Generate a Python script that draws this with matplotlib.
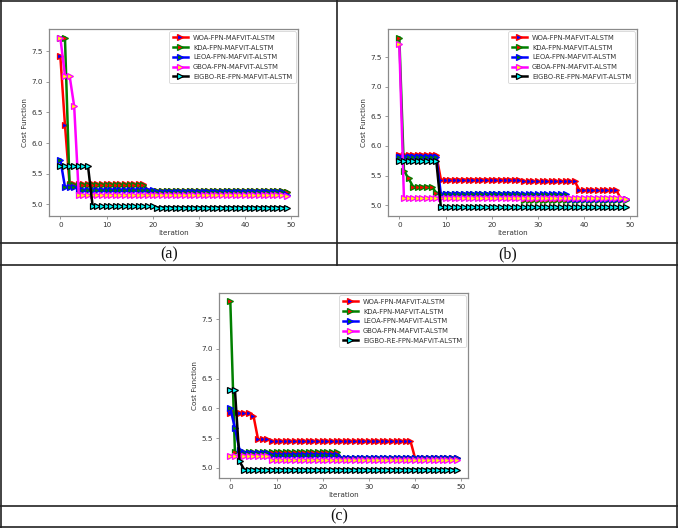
import matplotlib
matplotlib.use("Agg")
import matplotlib.pyplot as plt
from matplotlib.lines import Line2D

iterations = list(range(50))
labels = ["WOA-FPN-MAFViT-ALSTM", "KDA-FPN-MAFViT-ALSTM", "LEOA-FPN-MAFViT-ALSTM",
          "GBOA-FPN-MAFViT-ALSTM", "EIGBO-RE-FPN-MAFViT-ALSTM"]
line_colors = ["red", "green", "blue", "magenta", "black"]
face_colors = ["blue", "red", "green", "yellow", "cyan"]

# ---------------- (a) ----------------
woa_a = [7.42, 6.30, 5.33, 5.33, 5.33, 5.33, 5.33, 5.33, 5.33, 5.33,
         5.33, 5.33, 5.33, 5.33, 5.33, 5.33, 5.33, 5.33, 5.33, 5.22,
         5.22, 5.22, 5.22, 5.22, 5.22, 5.22, 5.22, 5.22, 5.22, 5.22,
         5.22, 5.22, 5.22, 5.22, 5.22, 5.22, 5.22, 5.22, 5.22, 5.22,
         5.22, 5.22, 5.22, 5.22, 5.22, 5.22, 5.22, 5.22, 5.22, 5.20]
kda_a = [7.72, 7.72, 5.31, 5.31, 5.31, 5.31, 5.31, 5.31, 5.31, 5.31,
         5.31, 5.31, 5.31, 5.31, 5.31, 5.31, 5.31, 5.31, 5.31, 5.22,
         5.22, 5.22, 5.22, 5.22, 5.22, 5.22, 5.22, 5.22, 5.22, 5.22,
         5.22, 5.22, 5.22, 5.22, 5.22, 5.22, 5.22, 5.22, 5.22, 5.22,
         5.22, 5.22, 5.22, 5.22, 5.22, 5.22, 5.22, 5.22, 5.22, 5.21]
leoa_a = [5.73, 5.29, 5.29, 5.29, 5.24, 5.24, 5.24, 5.24, 5.24, 5.24,
          5.24, 5.24, 5.24, 5.24, 5.24, 5.24, 5.24, 5.24, 5.24, 5.24,
          5.24, 5.20, 5.20, 5.20, 5.20, 5.20, 5.20, 5.20, 5.20, 5.20,
          5.20, 5.20, 5.20, 5.20, 5.20, 5.20, 5.20, 5.20, 5.20, 5.20,
          5.20, 5.20, 5.20, 5.20, 5.20, 5.20, 5.20, 5.20, 5.20, 5.15]
gboa_a = [7.72, 7.10, 7.10, 6.60, 5.15, 5.15, 5.15, 5.15, 5.15, 5.15,
          5.15, 5.15, 5.15, 5.15, 5.15, 5.15, 5.15, 5.15, 5.15, 5.15,
          5.15, 5.15, 5.15, 5.15, 5.15, 5.15, 5.15, 5.15, 5.15, 5.15,
          5.15, 5.15, 5.15, 5.15, 5.15, 5.15, 5.15, 5.15, 5.15, 5.15,
          5.15, 5.15, 5.15, 5.15, 5.15, 5.15, 5.15, 5.15, 5.15, 5.13]
eigbo_a = [5.62, 5.62, 5.62, 5.62, 5.62, 5.62, 5.62, 4.97, 4.97, 4.97,
           4.97, 4.97, 4.97, 4.97, 4.97, 4.97, 4.97, 4.97, 4.97, 4.97,
           4.97, 4.95, 4.95, 4.95, 4.95, 4.95, 4.95, 4.95, 4.95, 4.95,
           4.95, 4.95, 4.95, 4.95, 4.95, 4.95, 4.95, 4.95, 4.95, 4.95,
           4.95, 4.95, 4.95, 4.95, 4.95, 4.95, 4.95, 4.95, 4.95, 4.95]

# ---------------- (b) ----------------
woa_b = [5.85, 5.85, 5.85, 5.85, 5.85, 5.85, 5.85, 5.85, 5.85, 5.43,
         5.43, 5.43, 5.43, 5.43, 5.43, 5.43, 5.43, 5.43, 5.43, 5.43,
         5.43, 5.43, 5.43, 5.43, 5.43, 5.43, 5.43, 5.40, 5.40, 5.40,
         5.40, 5.40, 5.40, 5.40, 5.40, 5.40, 5.40, 5.40, 5.40, 5.25,
         5.25, 5.25, 5.25, 5.25, 5.25, 5.25, 5.25, 5.25, 5.10, 5.10]
kda_b = [7.83, 5.58, 5.45, 5.31, 5.31, 5.31, 5.31, 5.31, 5.21, 5.19,
         5.19, 5.19, 5.19, 5.19, 5.19, 5.19, 5.19, 5.19, 5.19, 5.19,
         5.19, 5.19, 5.19, 5.19, 5.19, 5.19, 5.19, 5.09, 5.09, 5.09,
         5.09, 5.09, 5.09, 5.09, 5.09, 5.09, 5.09, 5.09, 5.09, 5.09,
         5.09, 5.09, 5.09, 5.09, 5.09, 5.09, 5.09, 5.09, 5.09, 5.09]
leoa_b = [5.82, 5.82, 5.82, 5.82, 5.82, 5.82, 5.82, 5.82, 5.82, 5.18,
          5.18, 5.18, 5.18, 5.18, 5.18, 5.18, 5.18, 5.18, 5.18, 5.18,
          5.18, 5.18, 5.18, 5.18, 5.18, 5.18, 5.18, 5.18, 5.18, 5.18,
          5.18, 5.18, 5.18, 5.18, 5.18, 5.18, 5.18, 5.10, 5.10, 5.10,
          5.10, 5.10, 5.10, 5.10, 5.10, 5.10, 5.10, 5.10, 5.10, 5.10]
gboa_b = [7.72, 5.12, 5.12, 5.12, 5.12, 5.12, 5.12, 5.12, 5.12, 5.12,
          5.12, 5.12, 5.12, 5.12, 5.12, 5.12, 5.12, 5.12, 5.12, 5.12,
          5.12, 5.12, 5.12, 5.12, 5.12, 5.12, 5.12, 5.12, 5.12, 5.12,
          5.12, 5.12, 5.12, 5.12, 5.12, 5.12, 5.12, 5.12, 5.12, 5.12,
          5.12, 5.12, 5.12, 5.12, 5.12, 5.12, 5.12, 5.12, 5.12, 5.10]
eigbo_b = [5.75, 5.75, 5.75, 5.75, 5.75, 5.75, 5.75, 5.75, 5.75, 4.96,
           4.96, 4.96, 4.96, 4.96, 4.96, 4.96, 4.96, 4.96, 4.96, 4.96,
           4.96, 4.96, 4.96, 4.96, 4.96, 4.96, 4.96, 4.96, 4.96, 4.96,
           4.96, 4.96, 4.96, 4.96, 4.96, 4.96, 4.96, 4.96, 4.96, 4.96,
           4.96, 4.96, 4.96, 4.96, 4.96, 4.96, 4.96, 4.96, 4.96, 4.96]

# ---------------- (c) ----------------
woa_c = [5.92, 5.92, 5.92, 5.92, 5.92, 5.88, 5.48, 5.48, 5.48, 5.45,
         5.45, 5.45, 5.45, 5.45, 5.45, 5.45, 5.45, 5.45, 5.45, 5.45,
         5.45, 5.45, 5.45, 5.45, 5.45, 5.45, 5.45, 5.45, 5.45, 5.45,
         5.45, 5.45, 5.45, 5.45, 5.45, 5.45, 5.45, 5.45, 5.45, 5.45,
         5.16, 5.16, 5.16, 5.16, 5.16, 5.16, 5.16, 5.16, 5.16, 5.16]
kda_c = [7.80, 5.26, 5.26, 5.26, 5.26, 5.26, 5.26, 5.26, 5.26, 5.26,
         5.26, 5.26, 5.26, 5.26, 5.26, 5.26, 5.26, 5.26, 5.26, 5.26,
         5.26, 5.26, 5.26, 5.26, 5.17, 5.17, 5.17, 5.17, 5.17, 5.17,
         5.17, 5.17, 5.17, 5.17, 5.17, 5.17, 5.17, 5.17, 5.17, 5.17,
         5.17, 5.17, 5.17, 5.17, 5.17, 5.17, 5.17, 5.17, 5.17, 5.17]
leoa_c = [6.00, 5.67, 5.30, 5.25, 5.25, 5.25, 5.25, 5.25, 5.25, 5.22,
          5.22, 5.22, 5.22, 5.22, 5.22, 5.22, 5.22, 5.22, 5.22, 5.22,
          5.22, 5.22, 5.22, 5.22, 5.16, 5.16, 5.16, 5.16, 5.16, 5.16,
          5.16, 5.16, 5.16, 5.16, 5.16, 5.16, 5.16, 5.16, 5.16, 5.16,
          5.16, 5.16, 5.16, 5.16, 5.16, 5.16, 5.16, 5.16, 5.16, 5.16]
gboa_c = [5.20, 5.20, 5.20, 5.20, 5.20, 5.20, 5.20, 5.20, 5.20, 5.13,
          5.13, 5.13, 5.13, 5.13, 5.13, 5.13, 5.13, 5.13, 5.13, 5.13,
          5.13, 5.13, 5.13, 5.13, 5.13, 5.13, 5.13, 5.13, 5.13, 5.13,
          5.13, 5.13, 5.13, 5.13, 5.13, 5.13, 5.13, 5.13, 5.13, 5.13,
          5.13, 5.13, 5.13, 5.13, 5.13, 5.13, 5.13, 5.13, 5.13, 5.13]
eigbo_c = [6.31, 6.31, 5.11, 4.97, 4.97, 4.97, 4.97, 4.97, 4.97, 4.97,
           4.97, 4.97, 4.97, 4.97, 4.97, 4.97, 4.97, 4.97, 4.97, 4.97,
           4.97, 4.97, 4.97, 4.97, 4.97, 4.97, 4.97, 4.97, 4.97, 4.97,
           4.97, 4.97, 4.97, 4.97, 4.97, 4.97, 4.97, 4.97, 4.97, 4.97,
           4.97, 4.97, 4.97, 4.97, 4.97, 4.97, 4.97, 4.97, 4.97, 4.97]

panels = [
    ("(a)", [woa_a, kda_a, leoa_a, gboa_a, eigbo_a]),
    ("(b)", [woa_b, kda_b, leoa_b, gboa_b, eigbo_b]),
    ("(c)", [woa_c, kda_c, leoa_c, gboa_c, eigbo_c]),
]

W, H = 678, 528
fig = plt.figure(figsize=(W / 100, H / 100), dpi=100)
fig.patch.set_facecolor("white")

def frac_rect(left, top, right, bottom):
    return [left / W, (H - bottom) / H, (right - left) / W, (bottom - top) / H]

rects = [frac_rect(49, 29, 298, 216), frac_rect(388, 29, 637, 216), frac_rect(219, 293, 468, 478)]
spine_col = "#8a8a8a"
text_col = "#333333"

for (tag, series), rect in zip(panels, rects):
    ax = fig.add_axes(rect)
    for vals, lab, lc, fc in zip(series, labels, line_colors, face_colors):
        ax.plot(iterations, vals, color=lc, linewidth=1.8, marker=">", markersize=4.8,
                markerfacecolor=fc, markeredgecolor=lc, markeredgewidth=0.9, label=lab)
    ax.set_xticks([0, 10, 20, 30, 40, 50])
    ax.set_yticks([5.0, 5.5, 6.0, 6.5, 7.0, 7.5])
    ax.tick_params(labelsize=5.2, colors=spine_col, labelcolor=text_col, length=2.5, width=0.6, pad=2)
    for s in ax.spines.values():
        s.set_color(spine_col)
        s.set_linewidth(0.9)
    ax.set_xlabel("Iteration", fontsize=5.2, color=text_col, labelpad=1.5)
    ax.set_ylabel("Cost Function", fontsize=5.2, color=text_col, labelpad=2)
    leg = ax.legend(loc="upper right", fontsize=4.9, frameon=True, handlelength=2.2,
                    borderpad=0.5, labelspacing=0.55, handletextpad=0.8, borderaxespad=0.35)
    leg.get_frame().set_edgecolor("#cccccc")
    leg.get_frame().set_linewidth(0.6)
    for t in leg.get_texts():
        t.set_color(text_col)

# table label texts
for tag, (xp, yp) in zip(["(a)", "(b)", "(c)"], [(169, 254), (508, 254), (339, 516)]):
    fig.text(xp / W, (H - yp) / H, tag, ha="center", va="center", fontsize=11.5,
             family="Liberation Serif", color="#111111")

# table grid lines (pixel coords)
def hline(y, x0=0, x1=W):
    fig.add_artist(Line2D([x0 / W, x1 / W], [(H - y) / H, (H - y) / H],
                          transform=fig.transFigure, color="#222222", linewidth=1.2))

def vline(x, y0=0, y1=H):
    fig.add_artist(Line2D([x / W, x / W], [(H - y0) / H, (H - y1) / H],
                          transform=fig.transFigure, color="#222222", linewidth=1.2))

hline(1)
hline(243)
hline(264.5)
hline(505.5)
hline(526.5)
vline(1)
vline(677)
vline(337, 0, 264.5)

fig.savefig("out.png", dpi=100, facecolor="white")
